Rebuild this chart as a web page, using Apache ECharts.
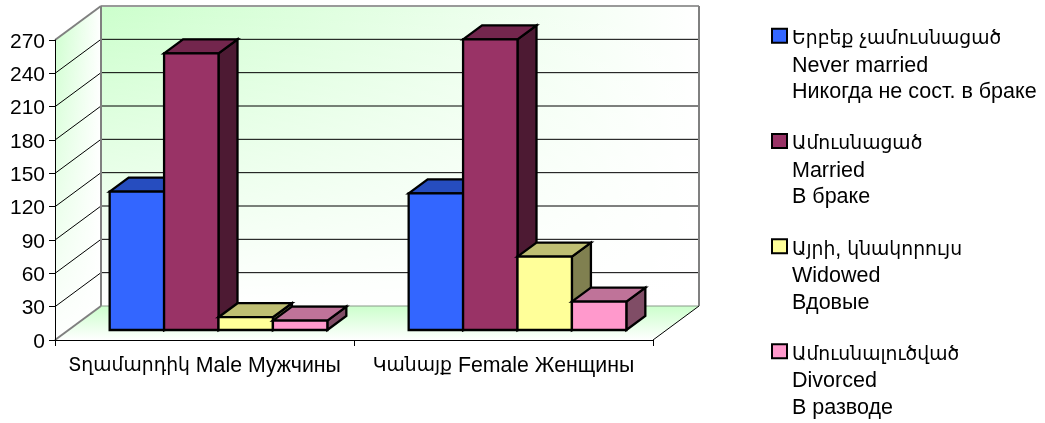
<!DOCTYPE html>
<html>
<head>
    <meta charset="utf-8" />
    <title></title>
    <script src="https://cdn.jsdelivr.net/npm/echarts@6/dist/echarts.min.js"></script>
    <style>
        html, body { margin: 0; padding: 0; background: #fff; }
    </style>
</head>
<body>
<div id="main" style="width: 1045px; height: 423px"></div>
<script type="text/javascript">
    var categories = ['Տղամարդիկ Male Мужчины', 'Կանայք Female Женщины'];
    var yTicks = [0, 30, 60, 90, 120, 150, 180, 210, 240, 270];

    var neverMarried = [124.5, 123];
    var married = [249, 261.5];
    var widowed = [11.5, 66];
    var divorced = [8.5, 25.5];

    var names = [
        'Երբեք չամուսնացած\nNever married\nНикогда не сост. в браке',
        'Ամուսնացած\nMarried\nВ браке',
        'Այրի, կնակորույս\nWidowed\nВдовые',
        'Ամուսնալուծված\nDivorced\nВ разводе'
    ];
    var seriesValues = [neverMarried, married, widowed, divorced];

    // front, top, side faces
    var faces = [
        ['#3366ff', '#264dbf', '#1a3380'],
        ['#993366', '#73264d', '#4d1a33'],
        ['#ffff99', '#bfbf73', '#808050'],
        ['#ff99cc', '#bf7399', '#804d66']
    ];

    var fontFamily = '"Liberation Sans", "DejaVu Sans", "Noto Sans", sans-serif';
    var wallDx = 46, wallDy = -34;   // depth of the whole box
    var barDx = 19, barDy = -14;     // depth of one bar
    var gapDx = 14, gapDy = -10;     // front of box to front of bar
    var barRatio = 0.182;            // bar width / category width
    var lineH = 26.5;
    var spacerExtra = 7;             // pushes legend text down a little against the swatch

    // the armenian fallback font runs wider than the latin one, so it gets its own size
    var richStyles = {
        hy: { fontFamily: '"DejaVu Sans"', fontSize: 18.8, color: '#000', lineHeight: lineH },
        sp: { fontSize: 10, lineHeight: lineH + spacerExtra }
    };
    function markArmenian(text) {
        return text.replace(/[\u0530-\u058f]+/g, '{hy|$&}');
    }

    function poly(points, fill) {
        return {
            type: 'polygon',
            shape: { points: points },
            style: { fill: fill, stroke: '#000', lineWidth: 2.3, lineJoin: 'miter' }
        };
    }

    function renderBar(params, api) {
        var si = params.seriesIndex - 1;
        var band = api.size([1, 0])[0];
        var w = band * barRatio;
        var top = api.coord([api.value(0), api.value(1)]);
        var base = api.coord([api.value(0), 0]);
        var x0 = base[0] + gapDx + (si - 2) * w;
        var x1 = x0 + w;
        var y0 = base[1] + gapDy;
        var y1 = top[1] + gapDy;
        var c = faces[si];
        return {
            type: 'group',
            children: [
                poly([[x1, y0], [x1 + barDx, y0 + barDy], [x1 + barDx, y1 + barDy], [x1, y1]], c[2]),
                poly([[x0, y1], [x0 + barDx, y1 + barDy], [x1 + barDx, y1 + barDy], [x1, y1]], c[1]),
                poly([[x0, y0], [x1, y0], [x1, y1], [x0, y1]], c[0])
            ]
        };
    }

    function edge(x1, y1, x2, y2, color, width) {
        return {
            type: 'line',
            shape: { x1: x1, y1: y1, x2: x2, y2: y2 },
            style: { stroke: color, lineWidth: width }
        };
    }

    function fade(x, y, x2, y2, from, to) {
        return new echarts.graphic.LinearGradient(x, y, x2, y2, [
            { offset: 0, color: from },
            { offset: 1, color: to }
        ]);
    }

    function renderWalls(params, api) {
        var g = params.coordSys;
        var l = g.x, r = g.x + g.width;
        var t = g.y, b = g.y + g.height;
        var white0 = 'rgba(255,255,255,0)';
        var green = '#ccffcc';
        var kids = [];
        var back = [[l + wallDx, t + wallDy], [r + wallDx, t + wallDy], [r + wallDx, b + wallDy], [l + wallDx, b + wallDy]];
        var side = [[l, t], [l + wallDx, t + wallDy], [l + wallDx, b + wallDy], [l, b]];
        var floor = [[l, b], [l + wallDx, b + wallDy], [r + wallDx, b + wallDy], [r, b]];

        kids.push({ type: 'polygon', shape: { points: back }, style: { fill: fade(0, 0, 1, 0, green, '#fff') } });
        kids.push({ type: 'polygon', shape: { points: back }, style: { fill: fade(0, 0, 0, 1, white0, '#fff') } });
        kids.push({ type: 'polygon', shape: { points: side }, style: { fill: fade(0, 0, 1, 0, green, '#fff') } });
        kids.push({ type: 'polygon', shape: { points: side }, style: { fill: fade(0, 0, 0, 1, white0, '#fff') } });
        kids.push({ type: 'polygon', shape: { points: floor }, style: { fill: fade(0, 0, 0, 1, green, '#fff') } });

        yTicks.forEach(function (v) {
            if (v === yTicks[0] || v === yTicks[yTicks.length - 1]) {
                return;
            }
            var y = api.coord([0, v])[1];
            kids.push(edge(l, y, l + wallDx, y + wallDy, '#000', 1));
            kids.push(edge(l + wallDx, y + wallDy, r + wallDx, y + wallDy, '#000', 1));
        });

        kids.push(edge(l, t, l + wallDx, t + wallDy, '#808080', 2));
        kids.push(edge(l + wallDx, t + wallDy, r + wallDx, t + wallDy, '#999', 2));
        kids.push(edge(l + wallDx, t + wallDy, l + wallDx, b + wallDy, '#808080', 2));
        kids.push(edge(r + wallDx, t + wallDy, r + wallDx, b + wallDy, '#808080', 2));
        kids.push(edge(l, b, l + wallDx, b + wallDy, '#808080', 2));
        kids.push(edge(l + wallDx, b + wallDy, r + wallDx, b + wallDy, '#8a9a8a', 1));
        kids.push(edge(r, b, r + wallDx, b + wallDy, '#000', 1));
        return { type: 'group', children: kids };
    }

    var series = [{
        type: 'custom',
        name: 'walls',
        silent: true,
        z: 1,
        clip: false,
        data: [[0, 0]],
        renderItem: renderWalls
    }];
    names.forEach(function (name, i) {
        series.push({
            type: 'custom',
            name: name,
            z: 2,
            clip: false,
            encode: { x: 0, y: 1 },
            itemStyle: { color: faces[i][0], borderColor: '#000', borderWidth: 2 },
            data: seriesValues[i].map(function (v, k) { return [k, v]; }),
            renderItem: renderBar
        });
    });

    var myChart = echarts.init(document.getElementById('main'));
    myChart.setOption({
        animation: false,
        textStyle: { fontFamily: fontFamily },
        grid: { left: 55, top: 40, width: 598, height: 300 },
        xAxis: {
            type: 'category',
            data: categories,
            z: 5,
            axisLine: { lineStyle: { color: '#000', width: 1 } },
            axisTick: { show: true, alignWithLabel: false, length: 6, lineStyle: { color: '#000' } },
            axisLabel: {
                color: '#000',
                fontSize: 21.3,
                fontFamily: fontFamily,
                margin: 13,
                interval: 0,
                formatter: markArmenian,
                rich: richStyles
            },
            splitLine: { show: false }
        },
        yAxis: {
            type: 'value',
            min: 0,
            max: 270,
            interval: 30,
            z: 5,
            axisLine: { show: true, lineStyle: { color: '#000', width: 1 } },
            axisTick: { show: true, length: 6, lineStyle: { color: '#000' } },
            axisLabel: {
                color: '#000',
                margin: 10,
                formatter: '{n|{value}}',
                rich: {
                    n: { fontSize: 21, fontFamily: fontFamily, color: '#000', padding: [4, 0, 0, 0] }
                }
            },
            splitLine: { show: false }
        },
        legend: {
            orient: 'vertical',
            left: 771,
            top: -34,
            height: 1000,
            padding: 0,
            selectedMode: false,
            icon: 'rect',
            itemWidth: 15,
            itemHeight: 14,
            itemGap: -lineH - spacerExtra - 0.8,
            data: names,
            itemStyle: { borderColor: '#000', borderWidth: 2 },
            // two empty lines above keep the first line level with the swatch
            formatter: function (name) {
                return '{sp| }\n\n' + markArmenian(name);
            },
            textStyle: {
                color: '#000',
                fontSize: 21.5,
                fontFamily: fontFamily,
                lineHeight: lineH,
                rich: richStyles
            }
        },
        series: series
    });
</script>
</body>
</html>
